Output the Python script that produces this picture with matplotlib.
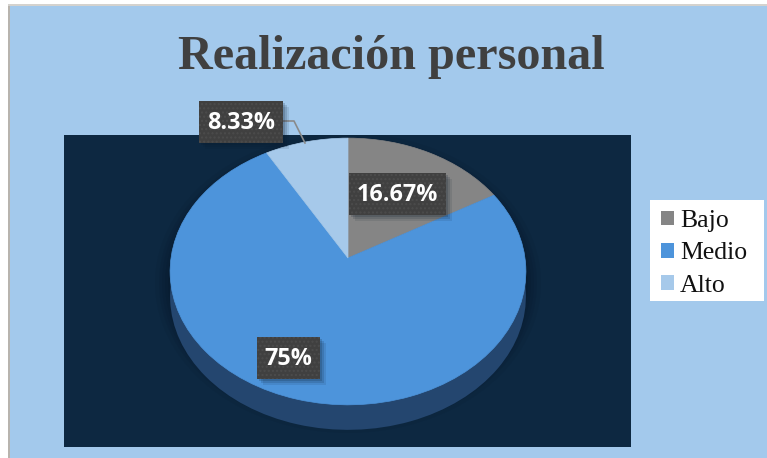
import numpy as np
import matplotlib
matplotlib.use("Agg")
import matplotlib.pyplot as plt
from matplotlib.patches import Rectangle, Ellipse
from matplotlib.lines import Line2D

categories = ["Bajo", "Medio", "Alto"]
values = [16.67, 75, 8.33]
labels = ["16.67%", "75%", "8.33%"]
colors = ["#858585", "#4d94db", "#a6c9ea"]
side_colors = ["#2f3a48", "#24466f", "#4a6c90"]
title = "Realización personal"

W, H = 767, 458
CX, CY, RX, RY, K, DEPTH = 348, 258, 177, 132, 0.101, 25


def project(v, dy=0):
    w = 1 + K * v[:, 1]
    return np.column_stack((CX + RX * v[:, 0] / w, CY + dy - RY * v[:, 1] / w))


fig = plt.figure(figsize=(W / 100, H / 100), dpi=100, facecolor="white")
ax = fig.add_axes([0, 0, 1, 1])

# pies through the library, then tilted into perspective
side, _ = ax.pie(values, colors=side_colors, startangle=90, counterclock=False, radius=1)
top, _ = ax.pie(values, colors=colors, startangle=90, counterclock=False, radius=1)
for w in side:
    p = w.get_path()
    p.vertices = project(p.vertices, DEPTH)
    w.set_zorder(4)
for w in top:
    p = w.get_path()
    p.vertices = project(p.vertices)
    w.set_zorder(5)
    w.set_edgecolor(w.get_facecolor())
    w.set_linewidth(0.5)

ax.set_aspect("auto")
ax.set_xlim(0, W)
ax.set_ylim(H, 0)
ax.set_xticks([])
ax.set_yticks([])
ax.set_frame_on(False)
ax.set_axis_on()

# frame and plot area
ax.add_patch(Rectangle((8, 5), W - 8, H - 5, fc="#a3c9ec", ec="none", zorder=1))
ax.add_patch(Rectangle((8, 5), 2, H - 5, fc="#b8b4ae", ec="none", zorder=1.2))
ax.add_patch(Rectangle((8, 4), W - 8, 2, fc="#d4d2ce", ec="none", zorder=1.2))
plot_bg = Rectangle((64, 135), 567, 312, fc="#0d2841", ec="none", zorder=2)
ax.add_patch(plot_bg)

# soft shadow below the pie
for grow, alpha in zip([16, 12, 9, 6, 3], [0.10, 0.12, 0.14, 0.16, 0.2]):
    e = Ellipse((CX, 283), 2 * (RX + grow), 2 * (134 + grow), fc="#06152a",
                ec="none", alpha=alpha, zorder=3)
    ax.add_patch(e)
    e.set_clip_path(plot_bg)

ax.text(391, 57, title, family="Liberation Serif", weight="bold", fontsize=34.7,
        color="#404040", ha="center", va="center", zorder=8)

# leader line and data labels
ax.add_line(Line2D([283, 294, 305], [121, 121, 143], color="#8a8a8a", lw=1.2, zorder=6))
boxes = [(349, 173, 97, 42), (257, 337, 63, 42), (199, 101, 84, 42)]
for text, (x, y, w, h) in zip(labels, boxes):
    for off, a in zip([6, 4, 2], [0.10, 0.14, 0.18]):
        ax.add_patch(Rectangle((x + off, y + off), w, h, fc="#0a1a2c", ec="none", alpha=a, zorder=6))
    ax.add_patch(Rectangle((x, y), w, h, fc="#404040", ec="#4c4c4c", lw=0, hatch="....", zorder=7))
    ax.text(x + w / 2, y + h / 2 + 1, text, family="Open Sans", weight="bold", fontsize=16.8,
            color="white", ha="center", va="center", zorder=8)

# legend
ax.add_patch(Rectangle((650, 200), 114, 101, fc="white", ec="none", zorder=6))
handles = [Rectangle((0, 0), 1, 1, fc=c, ec="none") for c in colors]
leg = ax.legend(handles, categories, loc="upper left", bbox_to_anchor=(650 / W, 1 - 199 / H),
                frameon=False, prop={"family": "Liberation Serif", "size": 18.5},
                handlelength=0.5, handleheight=0.5, handletextpad=0.23,
                labelspacing=0.40, borderaxespad=0, borderpad=0.43, labelcolor="#111111")
leg.set_zorder(9)

fig.savefig("out.png", dpi=100, facecolor=fig.get_facecolor())
